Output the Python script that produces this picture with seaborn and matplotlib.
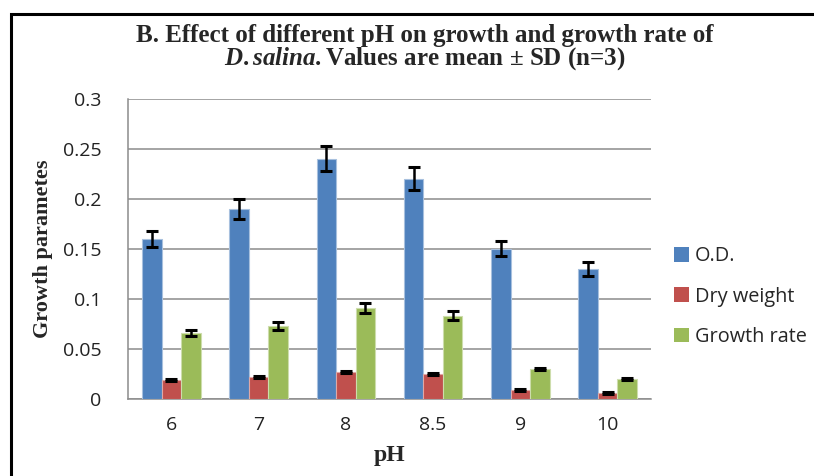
import matplotlib
matplotlib.use("Agg")
import matplotlib.pyplot as plt
from matplotlib.patches import Rectangle
import seaborn as sns
import pandas as pd

# Growth measurements of D. salina at each pH (mean and SD, n=3)
ph_levels = ["6", "7", "8", "8.5", "9", "10"]
od_mean = [0.160, 0.190, 0.240, 0.220, 0.150, 0.130]
od_sd = [0.008, 0.010, 0.0125, 0.0115, 0.0077, 0.007]
dry_mean = [0.019, 0.022, 0.027, 0.025, 0.009, 0.006]
dry_sd = [0.001, 0.001, 0.001, 0.001, 0.001, 0.001]
rate_mean = [0.066, 0.073, 0.091, 0.083, 0.030, 0.020]
rate_sd = [0.003, 0.004, 0.005, 0.0045, 0.001, 0.001]
series_names = ["O.D.", "Dry weight", "Growth rate"]
y_ticks = [0, 0.05, 0.1, 0.15, 0.2, 0.25, 0.3]
y_tick_labels = ["0", "0.05", "0.1", "0.15", "0.2", "0.25", "0.3"]

means = [od_mean, dry_mean, rate_mean]
sds = [od_sd, dry_sd, rate_sd]
df = pd.DataFrame({
    "pH": ph_levels * 3,
    "value": od_mean + dry_mean + rate_mean,
    "series": [s for s in series_names for _ in ph_levels],
})

palette = {"O.D.": "#4F81BD", "Dry weight": "#C0504D", "Growth rate": "#9BBB59"}
edges = {"O.D.": "#A7C0DE", "Dry weight": "#DFA8A6", "Growth rate": "#CDDDAC"}

sns.set_style("white")
plt.rcParams["mathtext.fontset"] = "custom"
plt.rcParams["mathtext.it"] = "Liberation Serif:italic:bold"
plt.rcParams["mathtext.rm"] = "Liberation Serif:bold"
plt.rcParams["mathtext.bf"] = "Liberation Serif:bold"

fig = plt.figure(figsize=(8.14, 4.76), dpi=100)
ax = fig.add_axes([0.157, 0.1618, 0.643, 0.6312])

sns.barplot(data=df, x="pH", y="value", hue="series", order=ph_levels,
            hue_order=series_names, palette=palette, width=0.67,
            saturation=1, errorbar=None, legend=False, ax=ax, zorder=3)

for name, cont, m, s in zip(series_names, ax.containers, means, sds):
    xs = []
    for bar in cont:
        bar.set_edgecolor(edges[name])
        bar.set_linewidth(0.8)
        xs.append(bar.get_x() + bar.get_width() / 2)
    ax.errorbar(xs, m, yerr=s, fmt="none", ecolor="black", elinewidth=1.8,
                capsize=4, capthick=2.2, zorder=4)

ax.set_ylim(0, 0.3)
ax.set_xlim(-0.5, len(ph_levels) - 0.5)
ax.set_yticks(y_ticks)
ax.set_yticklabels(y_tick_labels)
ax.yaxis.grid(True, color="#8C8C8C", linewidth=1.1, zorder=0)
ax.set_axisbelow(True)
for side in ["top", "right"]:
    ax.spines[side].set_visible(False)
for side in ["left", "bottom"]:
    ax.spines[side].set_color("#8C8C8C")
    ax.spines[side].set_linewidth(1.1)

tick_font = "Open Sans"
ax.tick_params(axis="y", length=3, width=1.1, color="#8C8C8C", pad=16,
               labelsize=14, labelcolor="#222222")
ax.tick_params(axis="x", length=0, pad=12, labelsize=14, labelcolor="#222222")
for lab in ax.get_xticklabels() + ax.get_yticklabels():
    lab.set_fontfamily(tick_font)

ax.set_xlabel("pH", fontfamily="Liberation Serif", fontweight="bold",
              fontsize=17, labelpad=8)
ax.set_ylabel("Growth parametes", fontfamily="Liberation Serif",
              fontweight="bold", fontsize=16, labelpad=7)

fig.text(0.522, 0.926, "B. Effect of different pH on growth and growth rate of",
         ha="center", va="center", fontfamily="Liberation Serif",
         fontweight="bold", fontsize=18)
fig.text(0.522, 0.877,
         r"$\mathit{D.salina.}$Values are mean ± SD (n=3)",
         ha="center", va="center", fontfamily="Liberation Serif",
         fontweight="bold", fontsize=18)

# Legend drawn as swatches beside the plot area
handles = [Rectangle((0, 0), 1, 1, facecolor=palette[n], edgecolor="none")
           for n in series_names]
fig.legend(handles, series_names, loc="upper left",
           bbox_to_anchor=(0.806, 0.52), frameon=False,
           prop={"family": tick_font, "size": 14.3}, handlelength=0.75,
           handleheight=0.75, handletextpad=0.3, labelspacing=1.02)

# Outer frame of the figure panel
fig.patches.append(Rectangle((11 / 814, -0.05), 1.2, (476 - 14) / 476 + 0.05,
                             transform=fig.transFigure, fill=False,
                             edgecolor="black", linewidth=2.2))

fig.savefig("out.png", dpi=100)
